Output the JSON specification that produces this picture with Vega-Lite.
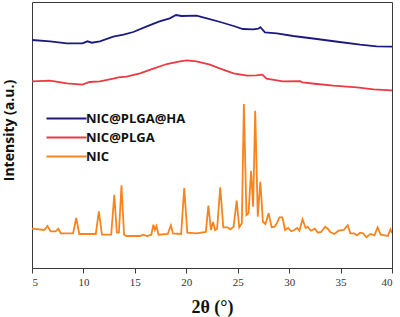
{
  "$schema": "https://vega.github.io/schema/vega-lite/v6.json",
  "width": 360,
  "height": 266,
  "autosize": "none",
  "padding": {"left": 32, "top": 2, "right": 8, "bottom": 49},
  "background": "white",
  "config": {
    "view": {"stroke": "#3a3a3a", "strokeWidth": 1}
  },
  "datasets": {
    "xrd": [
      {"series": "NIC@PLGA@HA", "x": 5.0, "y": 228},
      {"series": "NIC@PLGA@HA", "x": 6.75, "y": 226.7},
      {"series": "NIC@PLGA@HA", "x": 8.4, "y": 224.7},
      {"series": "NIC@PLGA@HA", "x": 9.9, "y": 224.7},
      {"series": "NIC@PLGA@HA", "x": 10.4, "y": 226.7},
      {"series": "NIC@PLGA@HA", "x": 10.8, "y": 225.3},
      {"series": "NIC@PLGA@HA", "x": 11.6, "y": 226.7},
      {"series": "NIC@PLGA@HA", "x": 12.9, "y": 231.3},
      {"series": "NIC@PLGA@HA", "x": 13.9, "y": 233.3},
      {"series": "NIC@PLGA@HA", "x": 14.85, "y": 236},
      {"series": "NIC@PLGA@HA", "x": 16.1, "y": 241.3},
      {"series": "NIC@PLGA@HA", "x": 17.4, "y": 246.7},
      {"series": "NIC@PLGA@HA", "x": 18.4, "y": 249.7},
      {"series": "NIC@PLGA@HA", "x": 19.0, "y": 253},
      {"series": "NIC@PLGA@HA", "x": 19.55, "y": 252},
      {"series": "NIC@PLGA@HA", "x": 21.0, "y": 252.3},
      {"series": "NIC@PLGA@HA", "x": 22.0, "y": 249.7},
      {"series": "NIC@PLGA@HA", "x": 23.3, "y": 246},
      {"series": "NIC@PLGA@HA", "x": 24.6, "y": 242},
      {"series": "NIC@PLGA@HA", "x": 25.5, "y": 239},
      {"series": "NIC@PLGA@HA", "x": 26.5, "y": 238.7},
      {"series": "NIC@PLGA@HA", "x": 27.0, "y": 239.3},
      {"series": "NIC@PLGA@HA", "x": 27.2, "y": 240.8},
      {"series": "NIC@PLGA@HA", "x": 27.65, "y": 235.7},
      {"series": "NIC@PLGA@HA", "x": 28.8, "y": 234.7},
      {"series": "NIC@PLGA@HA", "x": 30.4, "y": 232},
      {"series": "NIC@PLGA@HA", "x": 32.7, "y": 229},
      {"series": "NIC@PLGA@HA", "x": 34.9, "y": 226},
      {"series": "NIC@PLGA@HA", "x": 36.9, "y": 223.3},
      {"series": "NIC@PLGA@HA", "x": 38.5, "y": 221.7},
      {"series": "NIC@PLGA@HA", "x": 40.0, "y": 221.3},
      {"series": "NIC@PLGA", "x": 5.0, "y": 186.7},
      {"series": "NIC@PLGA", "x": 6.75, "y": 187.3},
      {"series": "NIC@PLGA", "x": 8.4, "y": 184.7},
      {"series": "NIC@PLGA", "x": 9.9, "y": 183.3},
      {"series": "NIC@PLGA", "x": 10.6, "y": 186},
      {"series": "NIC@PLGA", "x": 11.6, "y": 186.7},
      {"series": "NIC@PLGA", "x": 12.9, "y": 189.3},
      {"series": "NIC@PLGA", "x": 13.4, "y": 190.7},
      {"series": "NIC@PLGA", "x": 14.2, "y": 191.3},
      {"series": "NIC@PLGA", "x": 15.5, "y": 194.7},
      {"series": "NIC@PLGA", "x": 16.8, "y": 199.3},
      {"series": "NIC@PLGA", "x": 18.1, "y": 204},
      {"series": "NIC@PLGA", "x": 19.4, "y": 206.7},
      {"series": "NIC@PLGA", "x": 20.05, "y": 207.7},
      {"series": "NIC@PLGA", "x": 21.0, "y": 206.7},
      {"series": "NIC@PLGA", "x": 22.3, "y": 203.3},
      {"series": "NIC@PLGA", "x": 23.3, "y": 199.3},
      {"series": "NIC@PLGA", "x": 24.6, "y": 194.7},
      {"series": "NIC@PLGA", "x": 25.9, "y": 192.3},
      {"series": "NIC@PLGA", "x": 26.8, "y": 192.7},
      {"series": "NIC@PLGA", "x": 27.4, "y": 193.3},
      {"series": "NIC@PLGA", "x": 27.8, "y": 189.3},
      {"series": "NIC@PLGA", "x": 29.4, "y": 186.7},
      {"series": "NIC@PLGA", "x": 31.06, "y": 186.9},
      {"series": "NIC@PLGA", "x": 31.3, "y": 185.7},
      {"series": "NIC@PLGA", "x": 32.7, "y": 184},
      {"series": "NIC@PLGA", "x": 34.3, "y": 182.3},
      {"series": "NIC@PLGA", "x": 36.6, "y": 180.7},
      {"series": "NIC@PLGA", "x": 38.2, "y": 178.7},
      {"series": "NIC@PLGA", "x": 40.0, "y": 177.7},
      {"series": "NIC", "x": 5.0, "y": 39.3},
      {"series": "NIC", "x": 6.2, "y": 38},
      {"series": "NIC", "x": 6.5, "y": 42},
      {"series": "NIC", "x": 6.8, "y": 36.7},
      {"series": "NIC", "x": 7.3, "y": 36.7},
      {"series": "NIC", "x": 7.55, "y": 39.3},
      {"series": "NIC", "x": 7.8, "y": 34.7},
      {"series": "NIC", "x": 9.0, "y": 34.7},
      {"series": "NIC", "x": 9.3, "y": 50},
      {"series": "NIC", "x": 9.6, "y": 34},
      {"series": "NIC", "x": 11.2, "y": 34},
      {"series": "NIC", "x": 11.5, "y": 56.7},
      {"series": "NIC", "x": 11.8, "y": 33.3},
      {"series": "NIC", "x": 12.7, "y": 33.3},
      {"series": "NIC", "x": 13.0, "y": 73.3},
      {"series": "NIC", "x": 13.25, "y": 35.3},
      {"series": "NIC", "x": 13.45, "y": 35.3},
      {"series": "NIC", "x": 13.7, "y": 82.7},
      {"series": "NIC", "x": 13.95, "y": 33.3},
      {"series": "NIC", "x": 14.2, "y": 32},
      {"series": "NIC", "x": 15.5, "y": 32},
      {"series": "NIC", "x": 15.8, "y": 33.3},
      {"series": "NIC", "x": 16.2, "y": 32},
      {"series": "NIC", "x": 16.6, "y": 33.3},
      {"series": "NIC", "x": 16.8, "y": 43.3},
      {"series": "NIC", "x": 16.95, "y": 38},
      {"series": "NIC", "x": 17.1, "y": 42},
      {"series": "NIC", "x": 17.3, "y": 33.3},
      {"series": "NIC", "x": 18.2, "y": 34},
      {"series": "NIC", "x": 18.5, "y": 42.7},
      {"series": "NIC", "x": 18.7, "y": 34.7},
      {"series": "NIC", "x": 19.5, "y": 34},
      {"series": "NIC", "x": 19.8, "y": 80},
      {"series": "NIC", "x": 20.1, "y": 35.3},
      {"series": "NIC", "x": 21.0, "y": 34.7},
      {"series": "NIC", "x": 21.9, "y": 36},
      {"series": "NIC", "x": 22.15, "y": 62.3},
      {"series": "NIC", "x": 22.4, "y": 38},
      {"series": "NIC", "x": 22.6, "y": 46},
      {"series": "NIC", "x": 22.8, "y": 38},
      {"series": "NIC", "x": 23.0, "y": 39.3},
      {"series": "NIC", "x": 23.3, "y": 80.7},
      {"series": "NIC", "x": 23.6, "y": 40.7},
      {"series": "NIC", "x": 24.0, "y": 40.7},
      {"series": "NIC", "x": 24.3, "y": 38.7},
      {"series": "NIC", "x": 24.6, "y": 41.3},
      {"series": "NIC", "x": 24.9, "y": 67.3},
      {"series": "NIC", "x": 25.15, "y": 40.7},
      {"series": "NIC", "x": 25.4, "y": 44.7},
      {"series": "NIC", "x": 25.6, "y": 164},
      {"series": "NIC", "x": 25.85, "y": 53},
      {"series": "NIC", "x": 26.05, "y": 54.7},
      {"series": "NIC", "x": 26.3, "y": 97.3},
      {"series": "NIC", "x": 26.5, "y": 61.3},
      {"series": "NIC", "x": 26.7, "y": 157.3},
      {"series": "NIC", "x": 26.95, "y": 51.3},
      {"series": "NIC", "x": 27.2, "y": 86.3},
      {"series": "NIC", "x": 27.45, "y": 46.3},
      {"series": "NIC", "x": 27.7, "y": 44},
      {"series": "NIC", "x": 28.0, "y": 54.7},
      {"series": "NIC", "x": 28.3, "y": 40.7},
      {"series": "NIC", "x": 28.6, "y": 41.3},
      {"series": "NIC", "x": 28.8, "y": 44.7},
      {"series": "NIC", "x": 29.05, "y": 50.7},
      {"series": "NIC", "x": 29.35, "y": 50.7},
      {"series": "NIC", "x": 29.6, "y": 38},
      {"series": "NIC", "x": 29.9, "y": 40},
      {"series": "NIC", "x": 30.2, "y": 36.7},
      {"series": "NIC", "x": 30.5, "y": 38},
      {"series": "NIC", "x": 30.8, "y": 40},
      {"series": "NIC", "x": 31.0, "y": 37.3},
      {"series": "NIC", "x": 31.3, "y": 48.7},
      {"series": "NIC", "x": 31.6, "y": 40},
      {"series": "NIC", "x": 31.8, "y": 41.3},
      {"series": "NIC", "x": 32.1, "y": 37.3},
      {"series": "NIC", "x": 32.5, "y": 39.3},
      {"series": "NIC", "x": 32.8, "y": 35.3},
      {"series": "NIC", "x": 33.1, "y": 36},
      {"series": "NIC", "x": 33.5, "y": 41.3},
      {"series": "NIC", "x": 33.75, "y": 39.3},
      {"series": "NIC", "x": 34.0, "y": 36},
      {"series": "NIC", "x": 34.4, "y": 34},
      {"series": "NIC", "x": 34.8, "y": 37.3},
      {"series": "NIC", "x": 35.3, "y": 38},
      {"series": "NIC", "x": 35.7, "y": 42.7},
      {"series": "NIC", "x": 35.95, "y": 34.7},
      {"series": "NIC", "x": 36.3, "y": 34.7},
      {"series": "NIC", "x": 36.6, "y": 32.7},
      {"series": "NIC", "x": 36.9, "y": 35.3},
      {"series": "NIC", "x": 37.2, "y": 34.7},
      {"series": "NIC", "x": 37.5, "y": 30.7},
      {"series": "NIC", "x": 37.9, "y": 34},
      {"series": "NIC", "x": 38.3, "y": 32.7},
      {"series": "NIC", "x": 38.6, "y": 40.7},
      {"series": "NIC", "x": 38.9, "y": 33.3},
      {"series": "NIC", "x": 39.3, "y": 32.7},
      {"series": "NIC", "x": 39.6, "y": 32},
      {"series": "NIC", "x": 39.85, "y": 38.7},
      {"series": "NIC", "x": 40.0, "y": 34.7}
    ]
  },
  "data": {"name": "xrd"},
  "mark": {"type": "line", "strokeWidth": 1.8, "clip": true},
  "encoding": {
    "x": {
      "field": "x",
      "type": "quantitative",
      "scale": {"domain": [5, 40], "nice": false, "zero": false},
      "axis": {
        "values": [5, 10, 15, 20, 25, 30, 35, 40],
        "grid": false,
        "domainColor": "#3a3a3a",
        "tickColor": "#3a3a3a",
        "tickSize": 5,
        "labelFont": "Liberation Serif",
        "labelFontSize": 11,
        "labelColor": "#333333",
        "labelPadding": 3,
        "title": "2θ (°)",
        "titleFont": "Liberation Serif",
        "titleFontSize": 18,
        "titleFontWeight": "bold",
        "titleColor": "#111111",
        "titleX": 180,
        "titleY": 39,
        "titleBaseline": "middle",
        "titleAlign": "center"
      }
    },
    "y": {
      "field": "y",
      "type": "quantitative",
      "scale": {"domain": [0, 266], "nice": false, "zero": false},
      "axis": {
        "labels": false,
        "ticks": false,
        "grid": false,
        "domain": false,
        "title": "Intensity (a.u.)",
        "titleFont": "Open Sans",
        "titleFontSize": 14,
        "titleFontWeight": "bold",
        "titleColor": "#111111",
        "titleAngle": 270,
        "titleX": -23,
        "titleY": 128,
        "titleBaseline": "middle",
        "titleAlign": "center"
      }
    },
    "color": {
      "field": "series",
      "type": "nominal",
      "scale": {
        "domain": ["NIC@PLGA@HA", "NIC@PLGA", "NIC"],
        "range": ["#1b1a80", "#ec3a42", "#f7841f"]
      },
      "legend": {
        "title": null,
        "orient": "none",
        "legendX": 28,
        "legendY": 110,
        "symbolType": "M-5,0H5",
        "symbolSize": 64,
        "symbolStrokeWidth": 2.2,
        "labelOffset": 13,
        "labelFont": "Open Sans",
        "labelFontSize": 13,
        "labelFontWeight": "bold",
        "labelColor": "#111111",
        "rowPadding": 5
      }
    }
  }
}
